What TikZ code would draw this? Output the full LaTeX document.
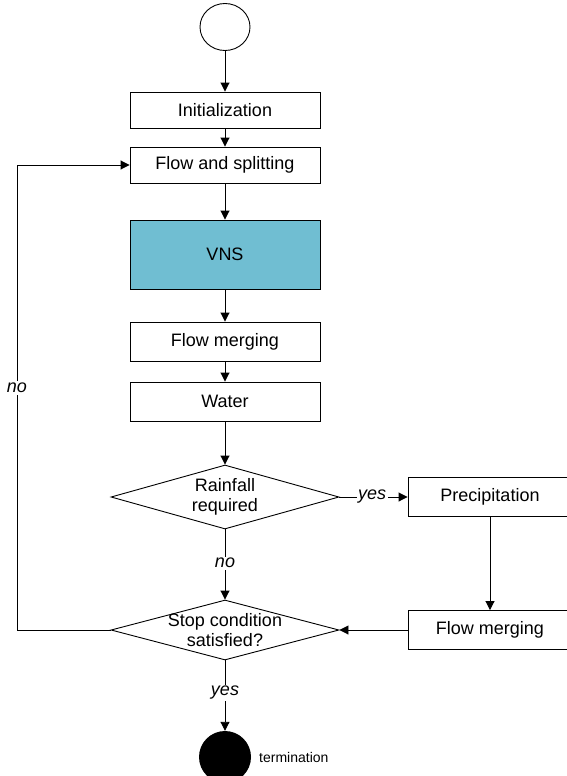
\documentclass[tikz,border=0pt]{standalone}
\usepackage{fontspec}
\setmainfont{Liberation Sans}
\usetikzlibrary{shapes.geometric,arrows.meta}
\definecolor{vnsblue}{RGB}{112,190,210}
\begin{document}
\begin{tikzpicture}[x=1pt,y=-1pt,
  every node/.style={font=\fontsize{18}{20}\selectfont},
  box/.style={draw,line width=0.9pt,minimum width=190pt,minimum height=36pt,inner sep=0pt,fill=white},
  rbox/.style={draw,line width=0.9pt,minimum width=164pt,minimum height=39pt,inner sep=0pt,fill=white},
  dia/.style={draw,diamond,line width=0.9pt,minimum width=228pt,minimum height=64pt,inner sep=0pt},
  txt/.style={align=center,inner sep=0pt},
  lab/.style={fill=white,inner sep=1.5pt,font=\itshape\fontsize{18}{20}\selectfont},
  arr/.style={line width=0.9pt,-{Triangle[length=9pt,width=9pt]}},
  ln/.style={line width=0.9pt}]
\useasboundingbox (0,0) rectangle (567,776);
\clip (0,0) rectangle (567,776);
\node[draw,ellipse,line width=0.9pt,minimum width=50pt,minimum height=47pt,inner sep=0pt] (start) at (225,27) {};
\node[box] (init) at (225,110) {Initialization};
\node[box] (fs) at (225,165) {Flow and splitting};
\node[box,fill=vnsblue,minimum height=69pt] (vns) at (225,254.5) {VNS};
\node[box,minimum height=39pt] (fm) at (225,341.5) {Flow merging};
\node[box,minimum height=39pt] (water) at (225,401.5) {Water};
\node[dia,minimum height=64pt] (rain) at (225,497) {};
\node[txt] at (rain) {Rainfall\\required};
\node[dia,minimum height=60pt] (stop) at (225,630) {};
\node[txt] at (stop) {Stop condition\\satisfied?};
\node[rbox] (prec) at (490,497) {Precipitation};
\node[rbox] (fm2) at (490,630) {Flow merging};
\node[circle,fill=black,minimum size=52pt,inner sep=0pt] (term) at (225,757) {};
\node[anchor=west,inner sep=0pt,font=\fontsize{14}{16}\selectfont] (termlab) at (259,757) {termination};
\coordinate (lb) at (17,630);
\coordinate (lt) at (17,165);

\draw[arr] (start) -- (init);
\draw[arr] (init) -- (fs);
\draw[arr] (fs) -- (vns);
\draw[arr] (vns) -- (fm);
\draw[arr] (fm) -- (water);
\draw[arr] (water.south) -- (rain.north);
\draw[arr] (rain.south) -- node[lab,pos=0.48] (nolab) {no} (stop.north);
\draw[arr] (stop.south) -- node[lab,pos=0.46] (yeslab) {yes} (term.north);
\draw[arr] (rain.east) -- node[lab,pos=0.48] (yes2) {yes} (prec.west);
\draw[arr] (prec.south) -- (fm2.north);
\draw[arr] (fm2.west) -- (stop.east);
\draw[ln] (stop.west) -- (lb) -- node[lab,pos=0.52,inner sep=2pt] (no2) {no} (lt);
\draw[arr] (lt) -- (fs.west);
\end{tikzpicture}
\end{document}
